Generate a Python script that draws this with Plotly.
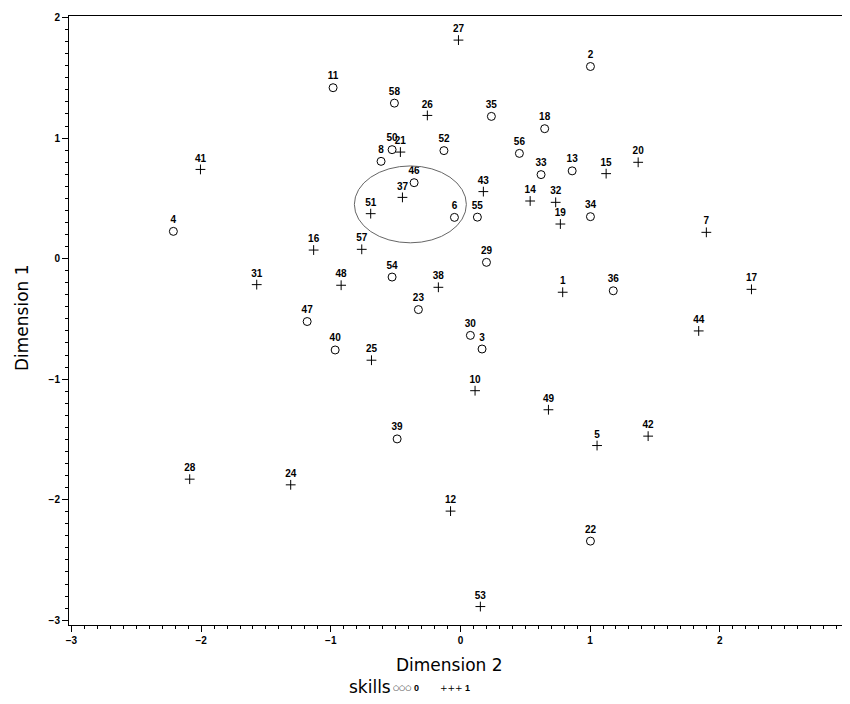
import plotly.graph_objects as go

# skills = 0 (open circles)
ids0 = [2, 3, 4, 6, 8, 11, 13, 18, 22, 23, 29, 30, 33, 34, 35, 36, 39, 40, 46, 47, 50, 52, 54, 55, 56, 58]
dim2_0 = [1.003, 0.167, -2.214, -0.046, -0.612, -0.982, 0.862, 0.650, 1.003, -0.324, 0.201, 0.077, 0.622,
          1.003, 0.239, 1.179, -0.488, -0.966, -0.357, -1.182, -0.527, -0.127, -0.527, 0.131, 0.455, -0.509]
dim1_0 = [1.594, -0.750, 0.226, 0.342, 0.807, 1.418, 0.728, 1.078, -2.344, -0.423, -0.031, -0.637, 0.697,
          0.348, 1.180, -0.267, -1.496, -0.758, 0.630, -0.522, 0.904, 0.896, -0.153, 0.344, 0.873, 1.290]

# skills = 1 (plus signs)
ids1 = [1, 5, 7, 10, 12, 14, 15, 16, 17, 19, 20, 21, 24, 25, 26, 27, 28, 31, 32, 37, 38, 41, 42, 43, 44,
        48, 49, 51, 53, 57]
dim2_1 = [0.789, 1.054, 1.897, 0.113, -0.076, 0.538, 1.124, -1.132, 2.245, 0.771, 1.371, -0.463, -1.309,
          -0.686, -0.255, -0.015, -2.088, -1.571, 0.735, -0.447, -0.170, -2.005, 1.448, 0.177, 1.838,
          -0.920, 0.679, -0.692, 0.154, -0.761]
dim1_1 = [-0.279, -1.551, 0.218, -1.096, -2.095, 0.478, 0.705, 0.071, -0.255, 0.287, 0.799, 0.884, -1.877,
          -0.843, 1.188, 1.813, -1.830, -0.216, 0.467, 0.508, -0.238, 0.740, -1.473, 0.556, -0.600,
          -0.221, -1.254, 0.373, -2.887, 0.077]

# highlighted cluster ellipse (Dimension 2 range, Dimension 1 range)
ellipse_x = [-0.818, 0.046]
ellipse_y = [0.131, 0.769]

x_ticks = [-3, -2, -1, 0, 1, 2, 3]
y_ticks = [-3, -2, -1, 0, 1, 2]

# the page body has an 8px default margin, so the figure starts at (8, 8) in the window
OFF = 8
W, H = 850 - OFF, 704 - 2 * OFF
ML, MR, MT = 69 - OFF, 0, 16 - OFF
MB = (H + OFF) - 625

label_font = dict(family="Liberation Sans", size=10, color="black")
tick_font = dict(family="Liberation Sans", size=10, color="black")


def tick_text(t):
    s = f"{t}".replace("-", "\u2212")
    return f"<b>{s}</b>"


fig = go.Figure()
fig.add_trace(go.Scatter(
    x=dim2_0, y=dim1_0, mode="markers+text", name="0",
    text=[f"<b>{i}</b>" for i in ids0], textposition="top center", textfont=label_font,
    marker=dict(symbol="circle-open", size=8, color="black", line=dict(width=1, color="black")),
    cliponaxis=False, showlegend=False))
fig.add_trace(go.Scatter(
    x=dim2_1, y=dim1_1, mode="markers+text", name="1",
    text=[f"<b>{i}</b>" for i in ids1], textposition="top center", textfont=label_font,
    marker=dict(symbol="cross-thin-open", size=7, color="black", line=dict(width=1, color="black")),
    cliponaxis=False, showlegend=False))

fig.add_shape(type="circle", xref="x", yref="y",
              x0=ellipse_x[0], x1=ellipse_x[1], y0=ellipse_y[0], y1=ellipse_y[1],
              line=dict(color="#666666", width=1))

axis_common = dict(
    showgrid=False, zeroline=False, showline=True, linecolor="black", linewidth=1,
    ticks="outside", ticklen=6, tickwidth=1, tickcolor="black",
    tickfont=tick_font, automargin=False,
    minor=dict(dtick=0.1, tick0=0, ticks="outside", ticklen=3, tickwidth=1, tickcolor="black",
               showgrid=False),
)

fig.update_xaxes(range=[-3.019, 3.005], tickvals=x_ticks, ticktext=[tick_text(t) for t in x_ticks],
                 mirror=True, **axis_common)
fig.update_yaxes(range=[-3.04, 2.013], tickvals=y_ticks, ticktext=[tick_text(t) for t in y_ticks],
                 mirror=False, **axis_common)

pw = W - ML - MR
ph = H - MT - MB


def px(xp):
    return (xp - OFF - ML) / pw


def py(yp):
    return (H - MB - (yp - OFF)) / ph


title_font = dict(family="DejaVu Sans", size=17, color="black")
annots = [
    dict(text="Dimension 2", x=px(449), y=py(665), font=title_font),
    dict(text="Dimension 1", x=px(22), y=py(318), font=title_font, textangle=-90),
    dict(text="skills", x=px(370), y=py(687), font=title_font),
    dict(text="\u25cb\u25cb\u25cb", x=px(402), y=py(688), font=dict(family="DejaVu Sans", size=7, color="black")),
    dict(text="<b>0</b>", x=px(416), y=py(688), font=dict(family="Liberation Sans", size=9, color="black")),
    dict(text="+++", x=px(451), y=py(688), font=dict(family="DejaVu Sans", size=9, color="black")),
    dict(text="<b>1</b>", x=px(467), y=py(688), font=dict(family="Liberation Sans", size=9, color="black")),
]
for a in annots:
    fig.add_annotation(xref="paper", yref="paper", showarrow=False, xanchor="center", yanchor="middle",
                       borderpad=0, **a)

fig.update_layout(width=W, height=H, margin=dict(l=ML, r=MR, t=MT, b=MB, autoexpand=False),
                  plot_bgcolor="white", paper_bgcolor="white", showlegend=False)

fig.write_html("out.html")
